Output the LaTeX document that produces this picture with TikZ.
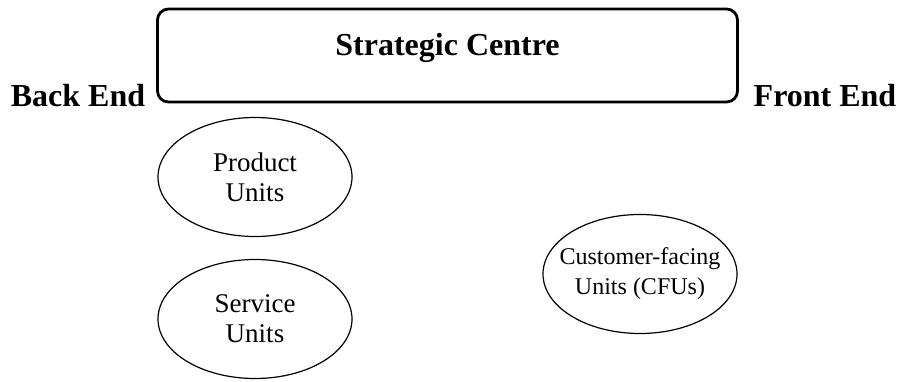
\documentclass[tikz,border=0pt]{standalone}
\usepackage{fontspec}
\setmainfont{Liberation Serif}
\usetikzlibrary{shapes.geometric}

\begin{document}
\begin{tikzpicture}[x=1pt, y=-1pt,
        unit/.style={draw, ellipse, line width=1.2pt, minimum width=194pt, minimum height=119pt,
                inner sep=0pt, align=center, font=\fontsize{27}{30}\selectfont},
        title/.style={font=\fontsize{32}{38}\selectfont\bfseries}]
                \useasboundingbox (0,0) rectangle (899,382);
                % strategic centre box
                \node[draw, line width=2.8pt, rounded corners=11pt, minimum width=580pt, minimum height=93pt,
                        text height=22pt, text depth=22pt, title] (centre) at (447.5,55.5) {Strategic Centre};
                \node[title, anchor=base] (back) at (78,107) {Back End};
                \node[title, anchor=base] (front) at (825,107) {Front End};
                % units
                \node[unit] (product) at (255,177) {Product\\Units};
                \node[unit] (service) at (255,319) {Service\\Units};
                \node[unit, inner xsep=-12pt, font=\fontsize{24}{30}\selectfont] (cfu) at (640,274) {Customer-facing\\Units (CFUs)};
            \end{tikzpicture}
\end{document}
